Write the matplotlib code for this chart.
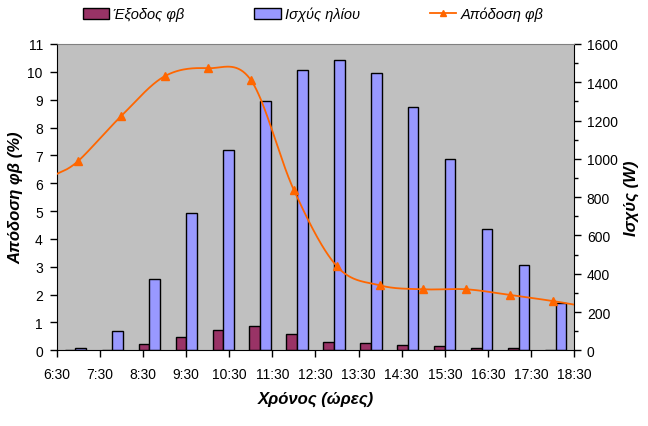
import matplotlib
matplotlib.use("Agg")
import matplotlib.pyplot as plt
import numpy as np
from matplotlib.lines import Line2D
from matplotlib.patches import Patch

plt.rcParams['font.family'] = ['Liberation Sans', 'DejaVu Sans']

# Δεδομένα (διαβασμένα από το διάγραμμα)
xronos_labels = ["6:30", "7:30", "8:30", "9:30", "10:30", "11:30", "12:30",
                 "13:30", "14:30", "15:30", "16:30", "17:30", "18:30"]
xronos_ticks = [6.5, 7.5, 8.5, 9.5, 10.5, 11.5, 12.5, 13.5, 14.5, 15.5, 16.5, 17.5, 18.5]

# μετρήσεις ισχύος (W), 14 κατηγορίες
exodos_fb = [0, 2, 31, 68, 105, 125, 84, 45, 37, 26, 21, 10, 10, 4]
isxys_iliou = [14, 103, 375, 715, 1044, 1300, 1462, 1515, 1447, 1269, 997, 636, 448, 249]

# απόδοση φβ (%) - τα άκρα χωρίς σημάδι
apodosi_x = [6.5, 7, 8, 9, 10, 11, 12, 13, 14, 15, 16, 17, 18, 18.5]
apodosi_y = [6.33, 6.80, 8.42, 9.84, 10.13, 9.71, 5.75, 3.01, 2.33, 2.19, 2.19, 1.99, 1.77, 1.64]


def smooth(x, y, n=40):
    # Bezier με σημεία ελέγχου τύπου Catmull-Rom (όπως το Excel)
    x = np.asarray(x, float)
    y = np.asarray(y, float)
    px = np.concatenate([[x[0]], x, [x[-1]]])
    py = np.concatenate([[y[0]], y, [y[-1]]])
    t = np.linspace(0, 1, n)
    xs, ys = [], []
    for i in range(1, len(px) - 2):
        x0, x1, x2, x3 = px[i - 1], px[i], px[i + 1], px[i + 2]
        y0, y1, y2, y3 = py[i - 1], py[i], py[i + 1], py[i + 2]
        c1x, c1y = x1 + (x2 - x0) / 6, y1 + (y2 - y0) / 6
        c2x, c2y = x2 - (x3 - x1) / 6, y2 - (y3 - y1) / 6
        b0, b1, b2, b3 = (1 - t) ** 3, 3 * t * (1 - t) ** 2, 3 * t ** 2 * (1 - t), t ** 3
        xs.append(b0 * x1 + b1 * c1x + b2 * c2x + b3 * x2)
        ys.append(b0 * y1 + b1 * c1y + b2 * c2y + b3 * y2)
    return np.concatenate(xs), np.concatenate(ys)


fig = plt.figure(figsize=(6.48, 4.27), dpi=100)
rect = [56.7 / 648, 1 - 351.3 / 427, (574.3 - 56.7) / 648, (351.3 - 45) / 427]

# ραβδόγραμμα (δεξιός άξονας, W)
ax_bar = fig.add_axes(rect)
ax_bar.set_facecolor("#C0C0C0")
kat = np.arange(len(isxys_iliou))
w = 1 / 3.5
ax_bar.bar(kat - w / 2, exodos_fb, w, color="#993366", edgecolor="black", linewidth=1)
ax_bar.bar(kat + w / 2, isxys_iliou, w, color="#9999FF", edgecolor="black", linewidth=1)
ax_bar.set_xlim(-0.5, len(kat) - 0.5)
ax_bar.set_ylim(0, 1600)
ax_bar.set_xticks([])
ax_bar.yaxis.tick_right()
ax_bar.yaxis.set_label_position("right")
ax_bar.set_yticks(np.arange(0, 1601, 200))
ax_bar.set_yticks(np.arange(100, 1600, 200), minor=True)
ax_bar.tick_params(axis="y", which="major", direction="out", length=5, width=1, pad=4, labelsize=10)
ax_bar.tick_params(axis="y", which="minor", direction="out", length=3, width=1)
ax_bar.set_ylabel("Ισχύς (W)", fontsize=12, fontweight="bold", fontstyle="italic", labelpad=4)
for s in ["left", "bottom", "right"]:
    ax_bar.spines[s].set_color("black")
ax_bar.spines["top"].set_color("#808080")

# καμπύλη απόδοσης (αριστερός άξονας, %)
ax = fig.add_axes(rect)
ax.patch.set_visible(False)
sx, sy = smooth(apodosi_x, apodosi_y)
ax.plot(sx, sy, color="#FF6600", linewidth=1.3)
ax.plot(apodosi_x[1:-1], apodosi_y[1:-1], linestyle="none", marker="^", markersize=5.5,
        color="#FF6600")
ax.set_xlim(6.5, 18.5)
ax.set_ylim(0, 11)
ax.set_xticks(xronos_ticks)
ax.set_xticklabels(xronos_labels)
ax.set_yticks(np.arange(0, 12, 1))
ax.tick_params(axis="both", direction="out", length=5, width=1, labelsize=10)
ax.tick_params(axis="y", pad=5)
ax.tick_params(axis="x", pad=7)
for s in ax.spines.values():
    s.set_visible(False)
ax.set_ylabel("Απόδοση φβ (%)", fontsize=12, fontweight="bold", fontstyle="italic", labelpad=3)
ax.set_xlabel("Χρόνος (ώρες)", fontsize=12, fontweight="bold", fontstyle="italic", labelpad=7)

# υπόμνημα
handles = [Patch(facecolor="#993366", edgecolor="black", linewidth=1),
           Patch(facecolor="#9999FF", edgecolor="black", linewidth=1),
           Line2D([], [], color="#FF6600", marker="^", markersize=5, linewidth=1.3)]
labels = ["Έξοδος φβ", "Ισχύς ηλίου", "Απόδοση φβ"]
fig.legend(handles, labels, loc="center", bbox_to_anchor=(313 / 648, 1 - 15 / 427), ncol=3,
           frameon=False, prop={"style": "italic", "size": 10.5}, handlelength=1.8,
           handleheight=0.8, handletextpad=0.3, columnspacing=4.8)

fig.savefig("out.png", dpi=100)
